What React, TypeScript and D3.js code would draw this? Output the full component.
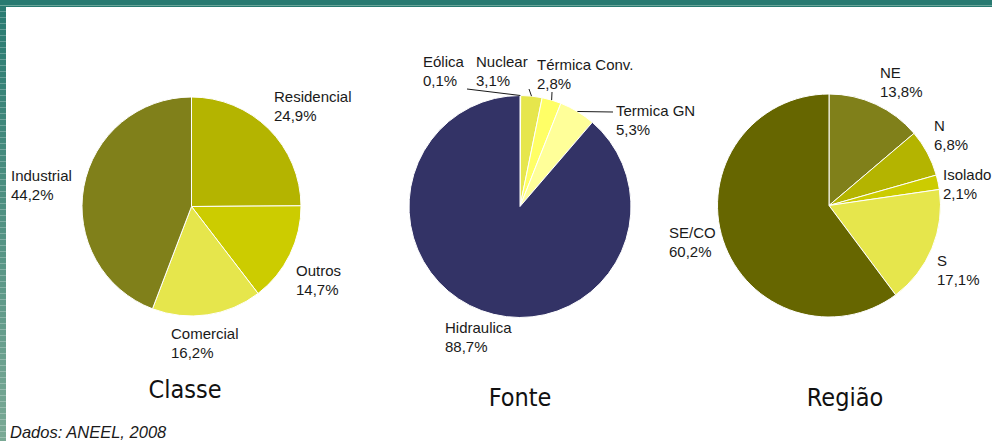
import React from 'react';
import * as d3 from 'd3';

// Classe
const classeLabels = ['Residencial', 'Outros', 'Comercial', 'Industrial'];
const classeValues = [24.9, 14.7, 16.2, 44.2];
const classeColors = ['#b4b400', '#cccc00', '#e6e64c', '#80801a'];

// Fonte
const fonteLabels = ['Eólica', 'Nuclear', 'Térmica Conv.', 'Termica GN', 'Hidraulica'];
const fonteValues = [0.1, 3.1, 2.8, 5.3, 88.7];
const fonteColors = ['#ffffcc', '#e6e64c', '#ffff66', '#ffff99', '#333366'];

// Região
const regiaoLabels = ['NE', 'N', 'Isolado', 'S', 'SE/CO'];
const regiaoValues = [13.8, 6.8, 2.1, 17.1, 60.2];
const regiaoColors = ['#80801a', '#b4b400', '#cccc00', '#e6e64c', '#666600'];

const fmt = (v: number) => v.toFixed(1).replace('.', ',') + '%';

type LabelPos = { x: number; y: number; leader?: [number, number] };

interface PieProps {
  cx: number;
  cy: number;
  r: number;
  labels: string[];
  values: number[];
  colors: string[];
  labelPos: LabelPos[];
}

const Pie = ({ cx, cy, r, labels, values, colors, labelPos }: PieProps) => {
  const pie = d3.pie<number>().sort(null).value(d => d);
  const arcs = pie(values);
  const arc = d3.arc<d3.PieArcDatum<number>>().innerRadius(0).outerRadius(r);
  return (
    <g transform={`translate(${cx},${cy})`}>
      {arcs.map((a, i) => (
        <path key={i} d={arc(a) || ''} fill={colors[i]} stroke="#ffffff" strokeWidth={1} />
      ))}
      {arcs.map((a, i) => {
        const p = labelPos[i];
        if (!p.leader) return null;
        const mid = (a.startAngle + a.endAngle) / 2;
        const sx = Math.sin(mid) * r;
        const sy = -Math.cos(mid) * r;
        return (
          <line key={'l' + i} x1={sx} y1={sy} x2={p.leader[0] - cx} y2={p.leader[1] - cy}
            stroke="#1a1a1a" strokeWidth={1} />
        );
      })}
      {labels.map((l, i) => (
        <text key={'t' + i} x={labelPos[i].x - cx} y={labelPos[i].y - cy}
          fontFamily="'Liberation Sans', Arial, sans-serif" fontSize={15} fill="#1a1a1a">
          <tspan x={labelPos[i].x - cx}>{l}</tspan>
          <tspan x={labelPos[i].x - cx} dy={19}>{fmt(values[i])}</tspan>
        </text>
      ))}
    </g>
  );
};

const App = () => {
  const W = 992;
  const H = 441;
  const titleStyle = {
    fontFamily: "'DejaVu Sans Condensed', 'DejaVu Sans', sans-serif",
    fontSize: 25,
    fill: '#111',
  };
  return (
    <svg width={W} height={H} style={{ position: 'absolute', left: 0, top: 0, background: '#fff' }}>
      <defs>
        <linearGradient id="side" x1="0" y1="0" x2="0" y2="1">
          <stop offset="0" stopColor="#287a71" />
          <stop offset="1" stopColor="#7aa995" />
        </linearGradient>
        <pattern id="stripes" width="6" height="6" patternUnits="userSpaceOnUse">
          <rect width="6" height="1" y="5" fill="#ffffff" opacity="0.25" />
        </pattern>
      </defs>
      <rect x={0} y={0} width={W} height={441} fill="#fff" />
      {/* frame */}
      <rect x={0} y={0} width={6} height={H} fill="url(#side)" />
      <rect x={0} y={0} width={6} height={H} fill="url(#stripes)" />
      <rect x={0} y={0} width={W} height={7} fill="#287a71" />
      <line x1={0} x2={W} y1={5.5} y2={5.5} stroke="#6aa69a" strokeWidth={1} />

      <Pie cx={191.5} cy={206.5} r={109.5}
        labels={classeLabels} values={classeValues} colors={classeColors}
        labelPos={[
          { x: 274, y: 102 },
          { x: 296, y: 276 },
          { x: 171, y: 339 },
          { x: 11, y: 181 },
        ]} />
      <Pie cx={520} cy={206.5} r={111}
        labels={fonteLabels} values={fonteValues} colors={fonteColors}
        labelPos={[
          { x: 423, y: 67, leader: [467, 89] },
          { x: 476, y: 67, leader: [529, 89] },
          { x: 537, y: 70, leader: [552, 92] },
          { x: 616, y: 116, leader: [613, 112] },
          { x: 445, y: 333 },
        ]} />
      <Pie cx={829} cy={205.5} r={111.5}
        labels={regiaoLabels} values={regiaoValues} colors={regiaoColors}
        labelPos={[
          { x: 880, y: 78 },
          { x: 934, y: 131 },
          { x: 943, y: 180 },
          { x: 937, y: 266 },
          { x: 669, y: 238 },
        ]} />

      <text x={185} y={398} textAnchor="middle" style={titleStyle}>Classe</text>
      <text x={520} y={406} textAnchor="middle" style={titleStyle}>Fonte</text>
      <text x={845} y={406} textAnchor="middle" style={titleStyle}>Região</text>

      <text x={10} y={438} fontFamily="'Liberation Sans', Arial, sans-serif" fontStyle="italic"
        fontSize={16.5} fill="#1a1a1a">Dados: ANEEL, 2008</text>
    </svg>
  );
};

export default App;
